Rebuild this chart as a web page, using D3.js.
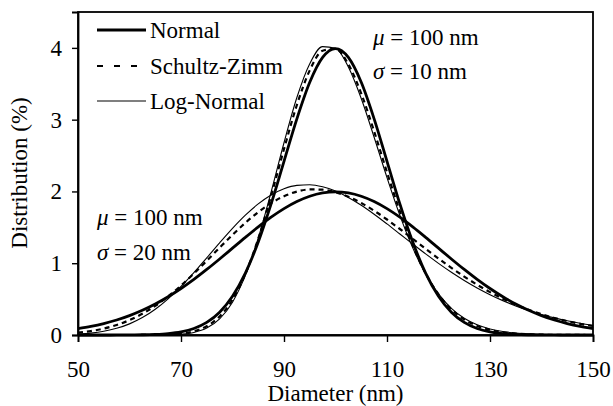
<!DOCTYPE html>
<html><head><meta charset="utf-8">
<script src="https://cdn.jsdelivr.net/npm/d3@7"></script>
<style>body{margin:0;background:#fff}svg{display:block}text{font-family:"Liberation Serif","Times New Roman",serif;fill:#000}</style>
</head><body>
<svg id="c" width="613" height="406"></svg>
<script>
const diameter = [50,52.5,55,57.5,60,62.5,65,67.5,70,72.5,75,77.5,80,82.5,85,87.5,90,92.5,95,97.5,100,102.5,105,107.5,110,112.5,115,117.5,120,122.5,125,127.5,130,132.5,135,137.5,140,142.5,145,147.5,150];
const normal10 = [0,0.0001,0.0002,0.0005,0.0013,0.0035,0.0087,0.0203,0.0443,0.0909,0.1753,0.3173,0.5399,0.8628,1.2952,1.8265,2.4197,3.0114,3.5207,3.8667,3.9894,3.8667,3.5207,3.0114,2.4197,1.8265,1.2952,0.8628,0.5399,0.3173,0.1753,0.0909,0.0443,0.0203,0.0087,0.0035,0.0013,0.0005,0.0002,0.0001,0];
const schultz10 = [0,0,0,0,0.0001,0.0005,0.0019,0.0066,0.0197,0.0521,0.1228,0.2588,0.4924,0.8503,1.3409,1.9410,2.5912,3.2047,3.6866,3.9602,3.9859,3.7710,3.3634,2.8365,2.2669,1.7217,1.2450,0.8592,0.5671,0.3584,0.2174,0.1268,0.0712,0.0385,0.0201,0.0101,0.0050,0.0023,0.0011,0.0005,0.0002];
const lognormal10 = [0,0,0,0,0,0.0001,0.0007,0.0031,0.0114,0.0358,0.0961,0.2237,0.4574,0.8302,1.3519,1.9921,2.6784,3.3082,3.7797,4.0176,3.9944,3.7331,3.2940,2.7555,2.1936,1.6672,1.2138,0.8489,0.5719,0.3720,0.2341,0.1429,0.0848,0.0490,0.0276,0.0152,0.0082,0.0043,0.0022,0.0011,0.0006];
const normal20 = [0.0876,0.1188,0.1587,0.2086,0.2700,0.3439,0.4314,0.5327,0.6476,0.7751,0.9133,1.0594,1.2099,1.3603,1.5057,1.6408,1.7603,1.8593,1.9333,1.9792,1.9947,1.9792,1.9333,1.8593,1.7603,1.6408,1.5057,1.3603,1.2099,1.0594,0.9133,0.7751,0.6476,0.5327,0.4314,0.3439,0.2700,0.2086,0.1587,0.1188,0.0876];
const schultz20 = [0.0318,0.0549,0.0898,0.1397,0.2077,0.2960,0.4062,0.5379,0.6892,0.8564,1.0342,1.2161,1.3946,1.5622,1.7119,1.8373,1.9336,1.9976,2.0279,2.0246,1.9898,1.9264,1.8386,1.7310,1.6088,1.4768,1.3395,1.2014,1.0659,0.9358,0.8134,0.7002,0.5973,0.5050,0.4234,0.3520,0.2904,0.2377,0.1931,0.1558,0.1248];
const lognormal20 = [0.0124,0.0265,0.0516,0.0927,0.1549,0.2427,0.3592,0.5044,0.6761,0.8688,1.0746,1.2834,1.4849,1.6690,1.8267,1.9511,2.0380,2.0852,2.0935,2.0652,2.0046,1.9167,1.8074,1.6825,1.5475,1.4076,1.2671,1.1297,0.9982,0.8746,0.7603,0.6561,0.5624,0.4789,0.4054,0.3413,0.2858,0.2382,0.1975,0.1631,0.1342];
const xTicks = [50,70,90,110,130,150];
const yTicks = [0,1,2,3,4];
const seriesNames = ["Normal","Schultz-Zimm","Log-Normal"];

const svg = d3.select("#c");
const L=78, R=593, T=12, B=335;
const FS = 23;
const x = d3.scaleLinear().domain([50,150]).range([L,R]);
const y = d3.scaleLinear().domain([0,4.5]).range([B,T]);

const styles = {
  "Normal": {w:2.8, dash:null},
  "Schultz-Zimm": {w:2.2, dash:"5,4"},
  "Log-Normal": {w:1.1, dash:null}
};

// frame
svg.append("rect").attr("x",L).attr("y",T).attr("width",R-L).attr("height",B-T)
  .attr("fill","none").attr("stroke","#000").attr("stroke-width",1.8);

// axes
const xa = svg.append("g").attr("transform",`translate(0,${B})`)
  .call(d3.axisBottom(x).tickValues(xTicks).tickSize(7).tickPadding(19).tickFormat(d3.format("d")));
const ya = svg.append("g").attr("transform",`translate(${L},0)`)
  .call(d3.axisLeft(y).tickValues(yTicks).tickSize(6).tickPadding(10).tickFormat(d3.format("d")));
[xa,ya].forEach(g=>{
  g.select(".domain").attr("stroke","#000").attr("stroke-width",1.8);
  g.selectAll(".tick line").attr("stroke","#000").attr("stroke-width",1.4);
  g.selectAll(".tick text").attr("font-family","Liberation Serif").attr("font-size",FS).attr("fill","#000");
});

const line = d3.line().x((d,i)=>x(diameter[i])).y(d=>y(d)).curve(d3.curveMonotoneX);
const curves = [
  [normal20,"Normal"],[schultz20,"Schultz-Zimm"],[lognormal20,"Log-Normal"],
  [normal10,"Normal"],[schultz10,"Schultz-Zimm"],[lognormal10,"Log-Normal"]
];
curves.forEach(([vals,name])=>{
  const s = styles[name];
  svg.append("path").attr("d",line(vals)).attr("fill","none").attr("stroke","#000")
    .attr("stroke-width",s.w).attr("stroke-dasharray",s.dash).attr("stroke-linejoin","round");
});

// legend
const legY = [30,66,101];
seriesNames.forEach((n,i)=>{
  const s = styles[n];
  svg.append("line").attr("x1",97).attr("x2",n==="Schultz-Zimm"?138:146).attr("y1",legY[i]).attr("y2",legY[i])
    .attr("stroke","#000").attr("stroke-width",s.w).attr("stroke-dasharray",n==="Schultz-Zimm"?"6,11":null);
  svg.append("text").attr("x",150).attr("y",legY[i]+8).attr("font-size",FS).text(n);
});

// annotations
function annot(xp, yp, sym, txt){
  const t = svg.append("text").attr("x",xp).attr("y",yp).attr("font-size",FS);
  t.append("tspan").attr("font-style","italic").text(sym);
  t.append("tspan").text(txt);
}
annot(373,45,"μ"," = 100 nm");
annot(373,79,"σ"," = 10 nm");
annot(97,225,"μ"," = 100 nm");
annot(97,260,"σ"," = 20 nm");

// axis titles
svg.append("text").attr("x",(L+R)/2).attr("y",401).attr("text-anchor","middle").attr("font-size",FS).text("Diameter (nm)");
svg.append("text").attr("transform","translate(27,173) rotate(-90)").attr("text-anchor","middle").attr("font-size",FS).text("Distribution (%)");
</script>
</body></html>
